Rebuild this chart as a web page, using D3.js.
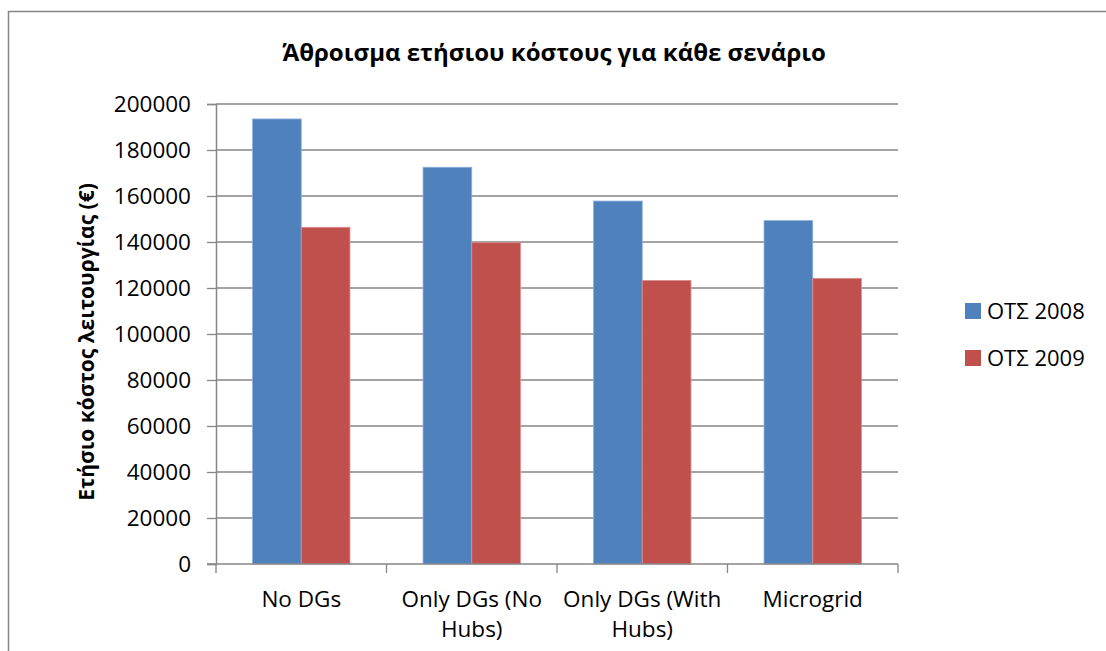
<!DOCTYPE html>
<html>
<head>
<meta charset="utf-8">
<script src="https://cdn.jsdelivr.net/npm/d3@7"></script>
<style>
  html, body { margin: 0; padding: 0; background: #fff; }
  svg { display: block; font-family: "Open Sans", "Noto Sans", sans-serif; }
</style>
</head>
<body>
<svg id="chart" width="1106" height="651"></svg>
<script>
// Scenarios and yearly operating cost per scenario (€)
const categories = ["No DGs", "Only DGs (No Hubs)", "Only DGs (With Hubs)", "Microgrid"];
const seriesNames = ["ΟΤΣ 2008", "ΟΤΣ 2009"];
const values2008 = [193500, 172500, 157800, 149300];
const values2009 = [146400, 139700, 123300, 124200];
const yTicks = [0, 20000, 40000, 60000, 80000, 100000, 120000, 140000, 160000, 180000, 200000];

const titleText = "Άθροισμα ετήσιου κόστους για κάθε σενάριο";
const yTitleText = "Ετήσιο κόστος λειτουργίας (€)";
const colors = ["#4F81BD", "#C0504D"];

const svg = d3.select("#chart");
const plot = { left: 216, right: 898, top: 104, bottom: 564 };
const textWeight = 500;

// chart frame
svg.append("rect")
  .attr("x", 8.5).attr("y", 11.5)
  .attr("width", 1120).attr("height", 700)
  .attr("fill", "#fff").attr("stroke", "#868686").attr("stroke-width", 1.5);

const x = d3.scaleBand().domain(categories).range([plot.left, plot.right]).paddingInner(0).paddingOuter(0);
const barW = x.bandwidth() / 3.5;
const xs = d3.scaleBand().domain(seriesNames).range([x.bandwidth() / 2 - barW, x.bandwidth() / 2 + barW]);
const y = d3.scaleLinear().domain([0, 200000]).range([plot.bottom, plot.top]);

// horizontal gridlines
svg.append("g").selectAll("line").data(yTicks.filter(d => d > 0)).join("line")
  .attr("x1", plot.left).attr("x2", plot.right)
  .attr("y1", d => y(d)).attr("y2", d => y(d))
  .attr("stroke", "#868686").attr("stroke-width", 1.3);

// bars
const rows = categories.map((c, i) => ({ c, vals: [values2008[i], values2009[i]] }));
const groups = svg.append("g").selectAll("g").data(rows).join("g")
  .attr("transform", d => `translate(${x(d.c)},0)`);
groups.selectAll("rect").data(d => d.vals.map((v, j) => ({ v, s: seriesNames[j], j }))).join("rect")
  .attr("x", d => xs(d.s))
  .attr("width", xs.bandwidth())
  .attr("y", d => y(d.v))
  .attr("height", d => y(0) - y(d.v))
  .attr("fill", d => colors[d.j])
  .attr("stroke", d => d.j === 0 ? "#8fb0dc" : "#dd8e8c")
  .attr("stroke-width", 0.8);

// y axis
const yAxis = svg.append("g").attr("transform", `translate(${plot.left},0)`)
  .call(d3.axisLeft(y).tickValues(yTicks).tickSize(9).tickPadding(16).tickFormat(d3.format("d")));
yAxis.select(".domain").attr("stroke", "#868686").attr("stroke-width", 1.5);
yAxis.selectAll(".tick line").attr("stroke", "#868686").attr("stroke-width", 1.3);
yAxis.selectAll(".tick text").attr("font-size", 22.5).attr("fill", "#000")
  .attr("font-weight", textWeight)
  .attr("font-family", "'Open Sans', sans-serif");

// x axis with ticks at category boundaries
const xAxisG = svg.append("g").attr("transform", `translate(0,${plot.bottom})`);
xAxisG.append("line").attr("x1", plot.left - 9).attr("x2", plot.right)
  .attr("stroke", "#868686").attr("stroke-width", 1.5);
const bounds = categories.map(c => x(c)).concat([x(categories[categories.length - 1]) + x.bandwidth()]);
xAxisG.selectAll("line.bt").data(bounds).join("line").attr("class", "bt")
  .attr("x1", d => d).attr("x2", d => d).attr("y1", 0).attr("y2", 9)
  .attr("stroke", "#868686").attr("stroke-width", 1.3);

// category labels, wrapped to the band width
const labels = xAxisG.selectAll("text.cat").data(categories).join("text").attr("class", "cat")
  .attr("text-anchor", "middle").attr("font-size", 22.5).attr("font-weight", textWeight).attr("fill", "#000")
  .attr("x", d => x(d) + x.bandwidth() / 2);
labels.each(function (d) {
  const t = d3.select(this);
  const words = d.split(" ");
  const lines = [];
  let cur = [];
  const probe = t.append("tspan");
  for (const w of words) {
    const test = cur.concat([w]).join(" ");
    probe.text(test);
    if (probe.node().getComputedTextLength() > x.bandwidth() - 4 && cur.length) {
      lines.push(cur.join(" "));
      cur = [w];
    } else cur.push(w);
  }
  lines.push(cur.join(" "));
  probe.remove();
  lines.forEach((ln, i) => {
    t.append("tspan").attr("x", x(d) + x.bandwidth() / 2).attr("y", 43 + i * 30).text(ln);
  });
});

// title
svg.append("text").attr("x", 554).attr("y", 61).attr("text-anchor", "middle")
  .attr("font-size", 24).attr("font-weight", "bold").attr("fill", "#000").text(titleText);

// y axis title
svg.append("text").attr("transform", `translate(94,342) rotate(-90)`)
  .attr("text-anchor", "middle").attr("font-size", 21).attr("font-weight", "bold").attr("fill", "#000")
  .text(yTitleText);

// legend
const legend = svg.append("g").selectAll("g").data(seriesNames).join("g")
  .attr("transform", (d, i) => `translate(965,${311 + i * 47})`);
legend.append("rect").attr("x", 0).attr("y", -8).attr("width", 16).attr("height", 16)
  .attr("fill", (d, i) => colors[i]);
legend.append("text").attr("x", 22).attr("y", 8).attr("font-size", 22).attr("font-weight", textWeight)
  .attr("fill", "#000").text(d => d);
</script>
</body>
</html>
